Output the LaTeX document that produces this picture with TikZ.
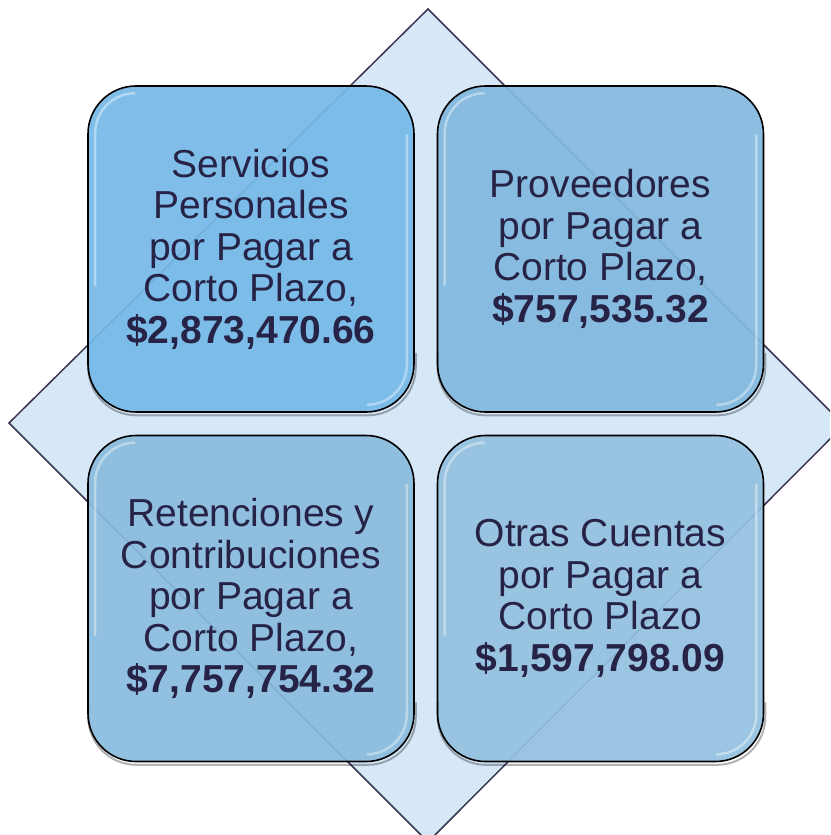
\documentclass[tikz,border=0pt]{standalone}
\usepackage{fontspec}
\setmainfont{Liberation Sans}
\definecolor{dmfill}{RGB}{214,232,247}
\definecolor{dmline}{RGB}{59,51,82}
\definecolor{txt}{RGB}{38,35,71}
\definecolor{cTL}{RGB}{117,185,231}
\definecolor{cTR}{RGB}{129,184,222}
\definecolor{cBL}{RGB}{137,187,222}
\definecolor{cBR}{RGB}{147,192,224}
\newcommand{\boxdeco}[1]{%
  \draw[black, opacity=0.3, line width=2pt, rounded corners=48pt]
    ([xshift=1pt,yshift=60pt]#1.south west) -- ([xshift=1pt,yshift=-2.5pt]#1.south west)
    -- ([xshift=1pt,yshift=-2.5pt]#1.south east) -- ([xshift=1pt,yshift=60pt]#1.south east);
  \draw[white, opacity=0.4, line width=2.5pt, rounded corners=40pt, line cap=round]
    ([xshift=8pt,yshift=-200pt]#1.north west) -- ([xshift=8pt,yshift=-8pt]#1.north west)
    -- ([xshift=45pt,yshift=-8pt]#1.north west);
  \draw[white, opacity=0.4, line width=2.5pt, rounded corners=40pt, line cap=round]
    ([xshift=-8pt,yshift=-50pt]#1.north east) -- ([xshift=-8pt,yshift=8pt]#1.south east)
    -- ([xshift=-45pt,yshift=8pt]#1.south east);
}
\begin{document}
\begin{tikzpicture}[x=1pt,y=-1pt,
  diam/.style={draw=dmline, fill=dmfill, line width=1.5pt, line join=miter},
  box/.style={draw=black, line width=1.6pt, rounded corners=48pt,
    minimum width=326pt, minimum height=326pt, inner sep=0pt,
    fill opacity=0.92, text opacity=1, text=txt, align=center,
    font=\fontsize{39}{41.5}\selectfont}]
\useasboundingbox (0,0) rectangle (830,835);
\begin{scope}
  \clip (0,0) rectangle (830,835);
  \draw[diam] (428,9) -- (9,423) -- (428,842) -- (844,425) -- cycle;
\end{scope}
\node[box, fill=cTL] (tl) at (251,249)
  {Servicios\\Personales\\por Pagar a\\Corto Plazo,\\\textbf{\$2,873,470.66}};
\node[box, fill=cTR] (tr) at (600.5,249)
  {Proveedores\\por Pagar a\\Corto Plazo,\\\textbf{\$757,535.32}};
\node[box, fill=cBL] (bl) at (251,598.5)
  {Retenciones y\\Contribuciones\\por Pagar a\\Corto Plazo,\\\textbf{\$7,757,754.32}};
\node[box, fill=cBR] (br) at (600.5,598.5)
  {Otras Cuentas\\por Pagar a\\Corto Plazo\\\textbf{\$1,597,798.09}};
\boxdeco{tl}
\boxdeco{tr}
\boxdeco{bl}
\boxdeco{br}
\end{tikzpicture}
\end{document}
